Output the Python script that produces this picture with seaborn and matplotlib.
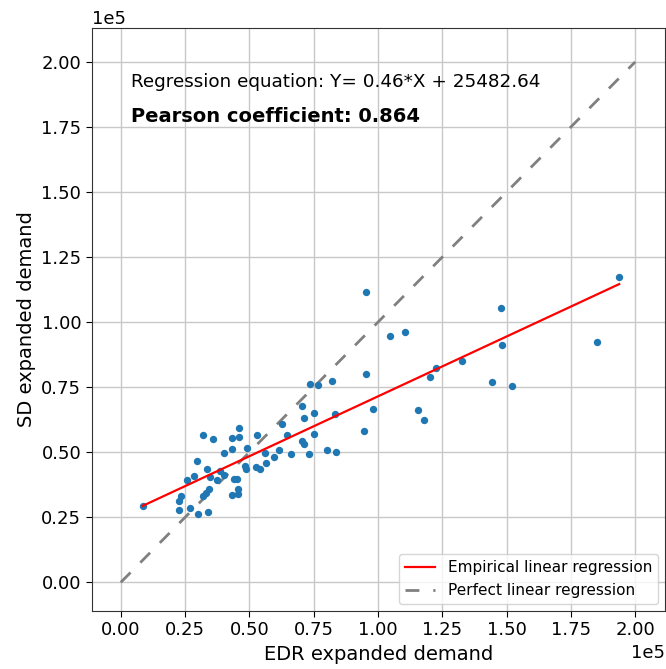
import matplotlib
matplotlib.use("Agg")
import matplotlib.pyplot as plt
import seaborn as sns
import numpy as np
import pandas as pd

# EDR expanded demand (x) and SD expanded demand (y), in units of 1e5
edr_demand = [0.085, 0.225, 0.228, 0.234, 0.258, 0.270, 0.286, 0.297, 0.302, 0.319,
              0.319, 0.332, 0.335, 0.341, 0.342, 0.345, 0.358, 0.374, 0.387, 0.401,
              0.400, 0.432, 0.434, 0.432, 0.440, 0.453, 0.456, 0.456, 0.458, 0.460,
              0.484, 0.488, 0.491, 0.524, 0.530, 0.540, 0.560, 0.566, 0.595, 0.616,
              0.625, 0.648, 0.660, 0.703, 0.703, 0.713, 0.713, 0.732, 0.736, 0.751,
              0.753, 0.768, 0.801, 0.823, 0.833, 0.837, 0.947, 0.952, 0.952, 0.979,
              1.046, 1.104, 1.157, 1.180, 1.202, 1.224, 1.327, 1.445, 1.478, 1.484,
              1.521, 1.852, 1.938]
sd_demand = [0.293, 0.280, 0.312, 0.331, 0.392, 0.284, 0.408, 0.466, 0.261, 0.331,
             0.566, 0.344, 0.434, 0.271, 0.357, 0.406, 0.550, 0.392, 0.428, 0.411,
             0.498, 0.511, 0.554, 0.335, 0.396, 0.396, 0.357, 0.340, 0.592, 0.560,
             0.447, 0.437, 0.518, 0.444, 0.566, 0.434, 0.496, 0.460, 0.482, 0.509,
             0.608, 0.566, 0.492, 0.678, 0.543, 0.533, 0.631, 0.492, 0.764, 0.652,
             0.569, 0.759, 0.509, 0.775, 0.646, 0.502, 0.582, 0.802, 1.116, 0.668,
             0.945, 0.962, 0.663, 0.625, 0.790, 0.823, 0.849, 0.770, 1.053, 0.913,
             0.753, 0.925, 1.175]
scale = 1e5
slope = 0.46
intercept = 25482.64
pearson = 0.864
perfect_range = [0.0, 2.0e5]

df = pd.DataFrame({"x": np.array(edr_demand) * scale, "y": np.array(sd_demand) * scale})

fig = plt.figure(figsize=(6.66, 6.69), dpi=100)
ax = fig.add_axes([0.1377, 0.0867, 0.8608, 0.8713])

sns.scatterplot(data=df, x="x", y="y", ax=ax, s=28, color="#1f77b4", linewidth=0, zorder=3)

xl = np.array([df["x"].min(), df["x"].max()])
ax.plot(xl, slope * xl + intercept, color="red", linewidth=1.6, label="Empirical linear regression", zorder=4)
ax.plot(perfect_range, perfect_range, color="gray", linestyle=(0, (5, 5)), linewidth=2,
        label="Perfect linear regression", zorder=2)

ax.set_xlim(-0.113e5, 2.116e5)
ax.set_ylim(-0.11e5, 2.13e5)
ax.set_xticks(np.arange(0, 2.01e5, 0.25e5))
ax.set_yticks(np.arange(0, 2.01e5, 0.25e5))
ax.ticklabel_format(style="sci", axis="both", scilimits=(5, 5))
ax.grid(True, color="#c8c8c8", linewidth=1, zorder=0)
ax.set_axisbelow(True)
ax.tick_params(labelsize=13, length=4)
ax.xaxis.get_offset_text().set_fontsize(13)
ax.yaxis.get_offset_text().set_fontsize(13)
for sp in ax.spines.values():
    sp.set_color("#333333")

ax.set_xlabel("EDR expanded demand", fontsize=14)
ax.set_ylabel("SD expanded demand", fontsize=14)

ax.text(0.04e5, 1.922e5, "Regression equation: Y= %.2f*X + %.2f" % (slope, intercept),
        fontsize=13.2, va="center")
ax.text(0.04e5, 1.79e5, "Pearson coefficient: %.3f" % pearson,
        fontsize=14, fontweight="bold", va="center")

ax.legend(loc="lower right", fontsize=11, framealpha=0.8, borderaxespad=0.45)

fig.savefig("out.png", dpi=100)
